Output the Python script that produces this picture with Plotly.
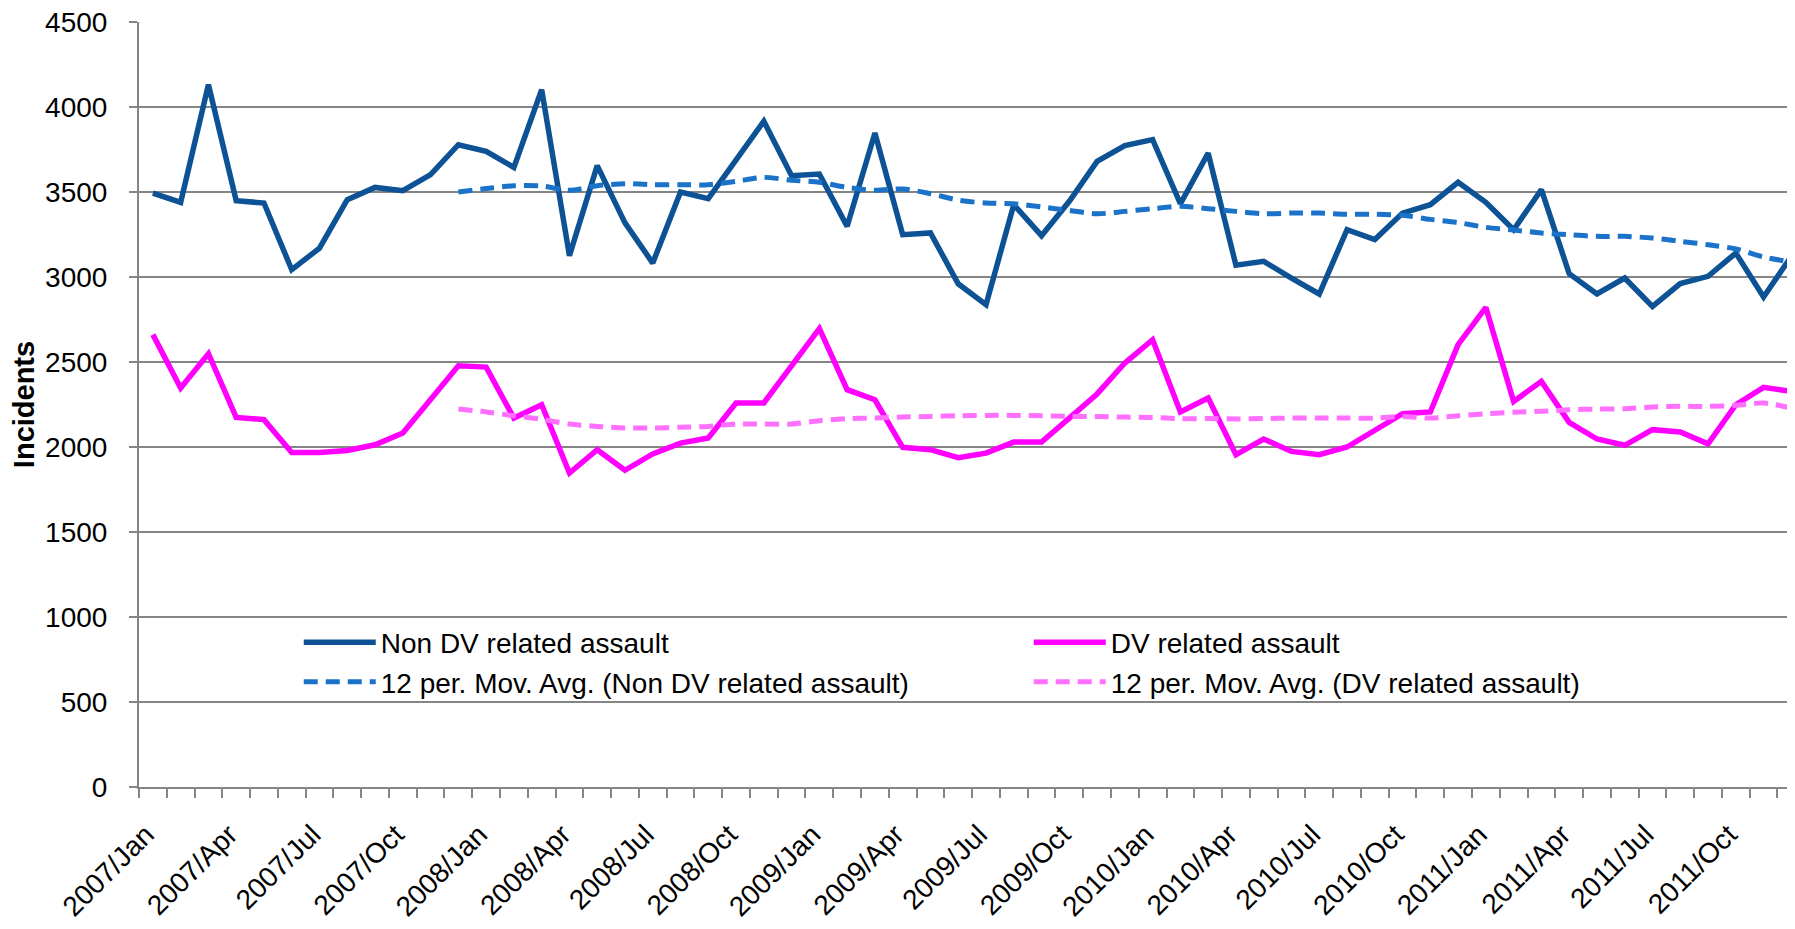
import plotly.graph_objects as go

years = ["2007", "2008", "2009", "2010", "2011"]
month_names = ["Jan", "Feb", "Mar", "Apr", "May", "Jun",
               "Jul", "Aug", "Sep", "Oct", "Nov", "Dec"]
categories = [f"{y}/{m}" for y in years for m in month_names]

non_dv = [3494, 3439, 4131, 3449, 3435, 3043, 3170, 3455, 3527, 3508, 3602, 3778,
          3739, 3645, 4102, 3125, 3655, 3318, 3082, 3500, 3461, 3690, 3916, 3596,
          3606, 3298, 3847, 3249, 3259, 2960, 2837, 3425, 3243, 3445, 3680, 3773,
          3808, 3431, 3729, 3069, 3092, 2994, 2900, 3278, 3220, 3376, 3425, 3557,
          3439, 3278, 3514, 3020, 2900, 2994, 2827, 2961, 3004, 3141, 2882, 3122]

dv = [2661, 2347, 2549, 2174, 2161, 1968, 1968, 1980, 2013, 2082, 2280, 2478,
      2470, 2170, 2249, 1847, 1984, 1863, 1959, 2023, 2053, 2259, 2259, 2474,
      2696, 2337, 2278, 1998, 1984, 1937, 1964, 2029, 2029, 2170, 2312, 2494,
      2631, 2206, 2288, 1955, 2047, 1974, 1955, 2000, 2098, 2196, 2206, 2602,
      2821, 2268, 2386, 2145, 2047, 2010, 2102, 2088, 2019, 2249, 2351, 2327]

# 12-period moving averages (start at 2007/Dec)
ma_non_dv = [3500, 3520, 3537, 3535,
             3510, 3537, 3549, 3543, 3543, 3543, 3563, 3586, 3569, 3557, 3527, 3510, 3518, 3490, 3452,
             3435, 3431, 3412, 3392, 3372, 3386, 3402, 3416, 3402, 3386, 3372, 3376, 3376, 3369, 3369,
             3363, 3339, 3320, 3292, 3276, 3259, 3249, 3239, 3239, 3229, 3210, 3190, 3165, 3118, 3088]

ma_dv = [2223, 2206, 2184, 2163,
         2135, 2121, 2112, 2112, 2116, 2121, 2135, 2135, 2135, 2155, 2167, 2170, 2176, 2180, 2184,
         2186, 2186, 2184, 2180, 2180, 2176, 2174, 2167, 2167, 2165, 2167, 2170, 2170, 2170, 2170,
         2180, 2170, 2184, 2196, 2204, 2210, 2219, 2223, 2225, 2235, 2239, 2239, 2245, 2259, 2229]

tick_labels = categories[::3]

x_all = list(range(len(categories)))
ma_start = len(categories) - len(ma_non_dv)
x_ma = x_all[ma_start:]

FONT = "Liberation Sans, Arial, sans-serif"
GRID = "#858585"
FS = 28

fig = go.Figure()
fig.add_trace(go.Scatter(x=x_all, y=non_dv, mode="lines", name="Non DV related assault",
                         line=dict(color="#0E5296", width=5.5)))
fig.add_trace(go.Scatter(x=x_all, y=dv, mode="lines", name="DV related assault",
                         line=dict(color="#FF00FF", width=5.5)))
fig.add_trace(go.Scatter(x=x_ma, y=ma_non_dv, mode="lines",
                         name="12 per. Mov. Avg. (Non DV related assault)",
                         line=dict(color="#1A73C8", width=5, dash="14px,8px", shape="spline", smoothing=0.8)))
fig.add_trace(go.Scatter(x=x_ma, y=ma_dv, mode="lines",
                         name="12 per. Mov. Avg. (DV related assault)",
                         line=dict(color="#FF70FF", width=5, dash="14px,8px", shape="spline", smoothing=0.8)))

xr = [-0.5, 59.42]

fig.update_layout(
    width=1795, height=929,
    margin=dict(l=131, r=0, t=14, b=150),
    paper_bgcolor="white", plot_bgcolor="white",
    font=dict(family=FONT, size=FS, color="black"),
    showlegend=True,
    legend=dict(orientation="h", x=0.096, y=0.2215, xanchor="left", yanchor="top",
                entrywidth=643, entrywidthmode="pixels", itemwidth=72,
                font=dict(family=FONT, size=FS, color="black"),
                bgcolor="rgba(0,0,0,0)"),
    xaxis=dict(range=xr, tickmode="array", tickvals=x_all[::3], ticktext=tick_labels,
               tickangle=-45, ticks="", ticklabelstandoff=18, ticklabelshift=-7, automargin=False,
               ticklabeloverflow="allow",
               tickfont=dict(family=FONT, size=FS, color="black"),
               minor=dict(tickmode="linear", tick0=-0.5, dtick=1, ticks="outside",
                          ticklen=9, tickwidth=2, tickcolor=GRID, showgrid=False),
               showline=True, linecolor=GRID, linewidth=2, showgrid=False, zeroline=False),
    yaxis=dict(range=[0, 4500], tickmode="linear", tick0=0, dtick=500, automargin=False,
               ticklabeloverflow="allow",
               ticks="outside", ticklen=8, tickwidth=2, tickcolor=GRID,
               showline=True, linecolor=GRID, linewidth=2,
               showgrid=True, gridcolor=GRID, gridwidth=2, zeroline=False,
               tickfont=dict(family=FONT, size=FS, color="black"), ticklabelstandoff=16,
               title=dict(text="<b>Incidents</b>", standoff=10,
                          font=dict(family=FONT, size=29, color="black"))),
)

fig.write_html("out.html")
